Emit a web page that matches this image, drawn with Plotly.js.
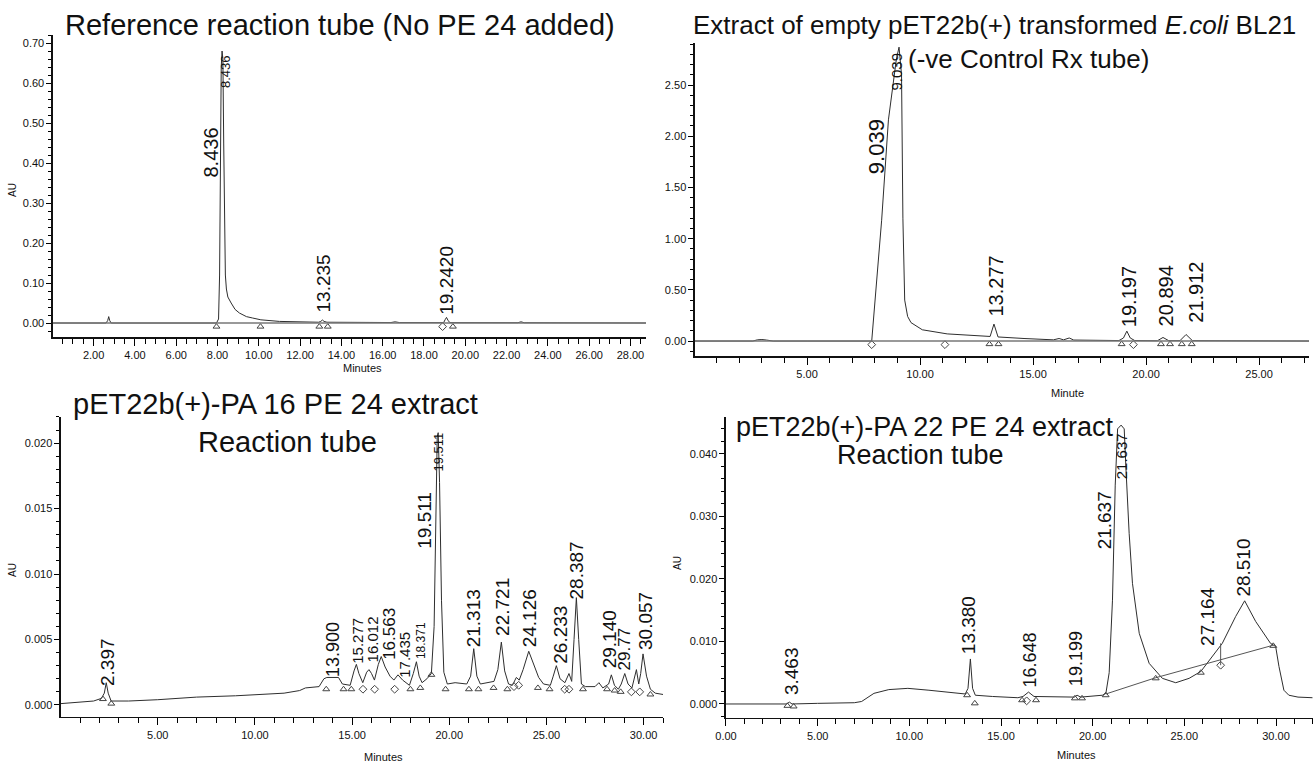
<!DOCTYPE html>
<html><head><meta charset="utf-8">
<script src="https://cdn.plot.ly/plotly-3.0.1.min.js"></script>
<style>html,body{margin:0;padding:0;background:#fff}#chart{width:1314px;height:763px}</style>
</head><body><div id="chart"></div>
<script>
// ---------- Panel 1: Reference reaction tube ----------
const p1Time = [0, 2.6, 2.68, 2.73, 2.78, 2.85, 7.95, 8.05, 8.1, 8.14, 8.18, 8.22, 8.26, 8.3, 8.34, 8.38, 8.43, 8.5, 8.66, 8.85, 9.06, 9.4, 9.7, 10.1, 11, 12.9, 13.0, 13.08, 13.16, 13.3, 16.4, 16.6, 16.8, 18.95, 19.02, 19.09, 19.16, 19.25, 22.55, 22.7, 22.85, 28.75];
const p1AU   = [0, 0, 0.006, 0.016, 0.006, 0, 0, 0.01, 0.12, 0.42, 0.64, 0.68, 0.66, 0.45, 0.22, 0.12, 0.085, 0.065, 0.05, 0.034, 0.025, 0.016, 0.0125, 0.008, 0.004, 0.002, 0.004, 0.0075, 0.004, 0.002, 0.0012, 0.003, 0.0012, 0.001, 0.008, 0.014, 0.007, 0.001, 0.0008, 0.003, 0.0008, 0];
const p1TriTime = [7.95, 10.08, 12.93, 13.34, 19.4];
const p1TriAU   = [-0.009, -0.009, -0.009, -0.009, -0.009];
const p1DiaTime = [18.9];
const p1DiaAU   = [-0.009];
const p1LabelText = ['8.436', '8.436', '13.235', '19.2420'];
const p1LabelTime = [7.7, 8.42, 13.13, 19.09];
const p1LabelAU   = [0.427, 0.628, 0.10, 0.107];

// ---------- Panel 2: empty pET22b(+) extract ----------
const p2Time = [0.04, 2.6, 2.8, 3.0, 3.2, 3.5, 5.0, 7.86, 8.3, 8.6, 8.95, 9.07, 9.18, 9.24, 9.32, 9.45, 9.6, 10.1, 11.2, 12.9, 13.1, 13.27, 13.45, 14.6, 15.9, 16.15, 16.35, 16.6, 16.8, 18.8, 19.0, 19.15, 19.3, 19.5, 20.5, 20.75, 21.0, 21.5, 21.77, 22.05, 27.21];
const p2AU   = [0, 0, 0.012, 0.015, 0.01, 0, 0, 0, 1.18, 2.16, 2.75, 2.87, 2.6, 1.2, 0.4, 0.24, 0.18, 0.11, 0.07, 0.045, 0.045, 0.166, 0.04, 0.025, 0.012, 0.025, 0.012, 0.03, 0.01, 0.005, 0.03, 0.097, 0.03, 0.005, 0.003, 0.035, 0.004, 0.004, 0.064, 0.004, 0];
const p2TriTime = [13.07, 13.47, 18.92, 20.66, 21.06, 21.58, 22.02];
const p2TriAU   = [-0.03, -0.03, -0.03, -0.03, -0.03, -0.03, -0.03];
const p2DiaTime = [7.86, 11.1, 19.44];
const p2DiaAU   = [-0.035, -0.035, -0.035];
const p2LabelText = ['9.039', '9.039', '13.277', '19.197', '20.894', '21.912'];
const p2LabelTime = [8.08, 8.97, 13.35, 19.25, 20.9, 22.2];
const p2LabelAU   = [1.9, 2.63, 0.54, 0.43, 0.44, 0.48];

// ---------- Panel 3: pET22b(+)-PA 16 PE 24 extract ----------
const p3Time = [0, 1.0, 1.7, 2.1, 2.25, 2.35, 2.45, 2.6, 3.5, 5.0, 7.0, 9.0, 10.5, 11.5, 12.3, 12.6, 13.3, 13.55, 13.7, 14.3, 14.5, 14.9, 15.1, 15.22, 15.35, 15.55, 15.75, 15.87, 16.0, 16.15, 16.35, 16.5, 16.7, 16.95, 17.15, 17.36, 17.6, 17.95, 18.15, 18.31, 18.45, 18.6, 18.85, 19.08, 19.22, 19.3, 19.38, 19.43, 19.5, 19.6, 19.72, 19.9, 20.3, 20.9, 21.1, 21.26, 21.42, 21.6, 22.3, 22.5, 22.68, 22.85, 23.05, 23.25, 23.45, 23.6, 23.8, 24.09, 24.35, 24.6, 24.85, 25.2, 25.35, 25.51, 25.7, 25.95, 26.16, 26.3, 26.42, 26.54, 26.66, 26.8, 27.0, 27.5, 27.7, 27.9, 28.2, 28.34, 28.5, 28.7, 28.85, 29.03, 29.2, 29.4, 29.63, 29.75, 29.85, 29.97, 30.15, 30.35, 30.6, 31.0];
const p3AU   = [0.0001, 0.0002, 0.0003, 0.0005, 0.0009, 0.0017, 0.0009, 0.0003, 0.0003, 0.0004, 0.0006, 0.0007, 0.0008, 0.0009, 0.0011, 0.0013, 0.0014, 0.0020, 0.0021, 0.0021, 0.0016, 0.0015, 0.0026, 0.0031, 0.0024, 0.0017, 0.0025, 0.0027, 0.0024, 0.0019, 0.0031, 0.0037, 0.0029, 0.0022, 0.0019, 0.0023, 0.0019, 0.0015, 0.0024, 0.0033, 0.0022, 0.0017, 0.0020, 0.0024, 0.0060, 0.0150, 0.0205, 0.0208, 0.0170, 0.0080, 0.0025, 0.0016, 0.0017, 0.0016, 0.0022, 0.0043, 0.0022, 0.0016, 0.0018, 0.0027, 0.0048, 0.0026, 0.0016, 0.0015, 0.0021, 0.0019, 0.0027, 0.0041, 0.0031, 0.0021, 0.0016, 0.0015, 0.0022, 0.0030, 0.0020, 0.0017, 0.0024, 0.0018, 0.0050, 0.0082, 0.0050, 0.0016, 0.0014, 0.0014, 0.0017, 0.0013, 0.0016, 0.0023, 0.0015, 0.0012, 0.0016, 0.0024, 0.0016, 0.0013, 0.0027, 0.0016, 0.0024, 0.0039, 0.0022, 0.0012, 0.0009, 0.0008];
const p3TriTime = [2.18, 2.61, 13.67, 14.56, 14.96, 18.0, 18.51, 19.08, 19.81, 21.01, 21.5, 22.28, 22.99, 24.56, 25.16, 26.88, 28.12, 28.51, 28.82, 30.35];
const p3TriAU   = [0.00045, 0.0001, 0.0012, 0.0012, 0.0012, 0.0012, 0.0013, 0.0023, 0.0012, 0.0012, 0.0012, 0.0013, 0.0012, 0.0013, 0.0012, 0.0012, 0.0012, 0.0011, 0.0010, 0.0008];
const p3DiaTime = [15.56, 16.16, 17.19, 23.33, 23.57, 25.94, 26.16, 29.37, 29.8];
const p3DiaAU   = [0.0012, 0.0012, 0.0012, 0.0014, 0.0015, 0.0012, 0.0012, 0.0010, 0.0010];
const p3LabelText = ['2.397', '13.900', '15.277', '16.012', '16.563', '17.435', '18.371', '19.511', '19.511', '21.313', '22.721', '24.126', '26.233', '28.387', '29.140', '29.77', '30.057'];
const p3LabelTime = [2.42, 14.02, 15.3, 16.07, 16.93, 17.7, 18.56, 18.72, 19.43, 21.26, 22.77, 24.14, 25.72, 26.54, 28.26, 29.03, 30.06];
const p3LabelAU   = [0.00325, 0.0042, 0.0049, 0.0050, 0.0054, 0.0038, 0.0049, 0.0141, 0.0193, 0.0066, 0.0075, 0.0066, 0.0054, 0.0103, 0.0050, 0.0043, 0.0064];

// ---------- Panel 4: pET22b(+)-PA 22 PE 24 extract ----------
const p4Time = [0, 3.3, 3.46, 3.6, 5.0, 7.0, 7.4, 8.07, 8.88, 9.92, 11.07, 12.23, 13.05, 13.2, 13.33, 13.45, 13.6, 14.53, 15.92, 16.2, 16.5, 16.8, 18.0, 19.0, 19.15, 19.35, 20.53, 20.72, 20.9, 21.08, 21.23, 21.36, 21.55, 21.72, 21.81, 21.99, 22.17, 22.54, 23.08, 23.8, 24.53, 25.26, 25.9, 26.53, 27.07, 27.8, 28.29, 28.89, 29.7, 29.98, 30.16, 30.43, 30.7, 31.2, 32.0];
const p4AU   = [0, 0, 0.0003, 0, 0.0001, 0.0002, 0.0004, 0.0017, 0.0023, 0.0025, 0.0022, 0.0018, 0.0016, 0.0025, 0.0072, 0.0025, 0.0014, 0.0012, 0.0010, 0.0012, 0.0019, 0.0012, 0.0011, 0.0011, 0.0014, 0.0011, 0.0014, 0.0017, 0.0050, 0.0166, 0.0350, 0.0440, 0.0446, 0.0440, 0.0380, 0.0273, 0.0193, 0.0113, 0.0065, 0.0041, 0.0034, 0.0041, 0.0052, 0.0076, 0.0097, 0.0140, 0.0165, 0.0132, 0.0097, 0.0092, 0.0060, 0.0022, 0.0014, 0.0011, 0.0010];
const p4BaseTime = [20.72, 23.44, 29.85];
const p4BaseAU   = [0.0016, 0.0042, 0.0094];
const p4DropTime = [26.98, 26.98];
const p4DropAU   = [0.0097, 0.0062];
const p4TriTime = [3.35, 3.69, 13.15, 13.57, 16.15, 16.91, 19.03, 19.42, 20.71, 23.44, 25.9, 29.85];
const p4TriAU   = [-0.0003, -0.0004, 0.0014, 0.0001, 0.0006, 0.0006, 0.0009, 0.0009, 0.0014, 0.0041, 0.0050, 0.0093];
const p4DiaTime = [16.4, 26.98];
const p4DiaAU   = [0.0005, 0.0062];
const p4LabelText = ['3.463', '13.380', '16.648', '19.199', '21.637', '21.637', '27.164', '28.510'];
const p4LabelTime = [3.58, 13.2, 16.6, 19.1, 20.63, 21.54, 26.26, 28.25];
const p4LabelAU   = [0.0052, 0.0126, 0.0070, 0.0072, 0.0294, 0.0396, 0.0140, 0.0218];

// ---------- styles ----------
const FONT = 'Liberation Sans, Arial, Helvetica, sans-serif';
const p1LabelSize = [20, 13, 19, 19];
const p2LabelSize = [22, 15, 20, 20, 20, 20];
const p3LabelSize = [19, 18, 15, 15, 17, 15, 12, 19, 13, 19, 19, 19, 19, 19, 19, 17, 19];
const p4LabelSize = [19, 19, 18, 18, 19, 15, 19, 19];
const lineColor = '#2e2e2e';
const tickFont = {family: FONT, size: 11, color: '#111'};

function xAxis(domain, range, dtick, minorDtick, anchor) {
  return {domain, range, anchor, tickmode: 'linear', tick0: 0, dtick, tickformat: '.2f',
    ticks: 'outside', ticklen: 7, tickwidth: 1, tickcolor: '#000', showline: true,
    linecolor: '#111', linewidth: 1.5, showgrid: false, zeroline: false, tickfont: tickFont,
    minor: {dtick: minorDtick, ticks: 'outside', ticklen: 5, tickwidth: 1, tickcolor: '#000', showgrid: false},
    fixedrange: true};
}
function yAxis(domain, range, dtick, fmt, minorDtick, anchor) {
  return {domain, range, anchor, tickmode: 'linear', tick0: 0, dtick, tickformat: fmt,
    ticks: 'outside', ticklen: 5, tickwidth: 1, tickcolor: '#000', showline: true,
    linecolor: '#111', linewidth: 1.5, showgrid: false, zeroline: false, tickfont: tickFont,
    minor: {dtick: minorDtick, ticks: 'outside', ticklen: 3, tickwidth: 1, tickcolor: '#000', showgrid: false},
    fixedrange: true};
}

const traces = [];
function addPanel(xa, ya, t, v, triT, triV, diaT, diaV) {
  traces.push({x: t, y: v, xaxis: xa, yaxis: ya, type: 'scatter', mode: 'lines',
    line: {color: lineColor, width: 1}, hoverinfo: 'skip'});
  traces.push({x: triT, y: triV, xaxis: xa, yaxis: ya, type: 'scatter', mode: 'markers',
    marker: {symbol: 'triangle-up-open', size: 6, color: '#444', line: {width: 1}}, hoverinfo: 'skip'});
  traces.push({x: diaT, y: diaV, xaxis: xa, yaxis: ya, type: 'scatter', mode: 'markers',
    marker: {symbol: 'diamond-open', size: 6, color: '#444', line: {width: 1}}, hoverinfo: 'skip'});
}
addPanel('x', 'y', p1Time, p1AU, p1TriTime, p1TriAU, p1DiaTime, p1DiaAU);
addPanel('x2', 'y2', p2Time, p2AU, p2TriTime, p2TriAU, p2DiaTime, p2DiaAU);
addPanel('x3', 'y3', p3Time, p3AU, p3TriTime, p3TriAU, p3DiaTime, p3DiaAU);
addPanel('x4', 'y4', p4Time, p4AU, p4TriTime, p4TriAU, p4DiaTime, p4DiaAU);
traces.push({x: p4BaseTime, y: p4BaseAU, xaxis: 'x4', yaxis: 'y4', type: 'scatter', mode: 'lines',
  line: {color: '#555', width: 1}, hoverinfo: 'skip'});
traces.push({x: p4DropTime, y: p4DropAU, xaxis: 'x4', yaxis: 'y4', type: 'scatter', mode: 'lines',
  line: {color: '#555', width: 1}, hoverinfo: 'skip'});

const annotations = [];
function peakLabels(xa, ya, texts, ts, vs, sizes) {
  texts.forEach((txt, i) => annotations.push({text: txt, x: ts[i], y: vs[i], xref: xa, yref: ya,
    showarrow: false, textangle: -90, xanchor: 'center', yanchor: 'middle',
    font: {family: FONT, size: sizes[i], color: '#111'}}));
}
peakLabels('x', 'y', p1LabelText, p1LabelTime, p1LabelAU, p1LabelSize);
peakLabels('x2', 'y2', p2LabelText, p2LabelTime, p2LabelAU, p2LabelSize);
peakLabels('x3', 'y3', p3LabelText, p3LabelTime, p3LabelAU, p3LabelSize);
peakLabels('x4', 'y4', p4LabelText, p4LabelTime, p4LabelAU, p4LabelSize);

const W = 1314, H = 763;
function paperText(txt, px, py, size, angle) {
  annotations.push({text: txt, x: px / W, y: 1 - py / H, xref: 'paper', yref: 'paper',
    showarrow: false, xanchor: 'center', yanchor: 'middle', textangle: angle || 0,
    borderpad: 0, font: {family: FONT, size, color: '#111'}});
}
paperText('Reference reaction tube (No PE 24 added)', 340, 25, 29);
paperText('Extract of empty pET22b(+) transformed <i>E.coli</i> BL21', 994, 25, 26);
paperText('(-ve Control Rx tube)', 1028, 59, 26);
paperText('pET22b(+)-PA 16 PE 24 extract', 275, 404, 29);
paperText('Reaction tube', 287, 442, 29);
paperText('pET22b(+)-PA 22 PE 24 extract', 924, 427, 27);
paperText('Reaction tube', 920, 455, 27);
paperText('Minutes', 362, 368, 11);
paperText('Minute', 1067, 393, 11);
paperText('Minutes', 383, 757, 11);
paperText('Minutes', 1076, 755, 11);
paperText('AU', 12, 190, 10, -90);
paperText('AU', 12, 570, 10, -90);
paperText('AU', 677, 563, 10, -90);

const layout = {
  width: W, height: H, margin: {l: 0, r: 0, t: 0, b: 0},
  paper_bgcolor: '#fff', plot_bgcolor: 'rgba(0,0,0,0)', showlegend: false,
  xaxis:  xAxis([0.0403, 0.4916], [0.03, 28.75], 2, 0.5, 'y'),
  yaxis:  yAxis([0.5583, 0.9541], [-0.035, 0.72], 0.1, '.2f', 0.02, 'x'),
  xaxis2: xAxis([0.5289, 0.9962], [0.04, 27.21], 5, 1, 'y2'),
  yaxis2: yAxis([0.5334, 0.9436], [-0.146, 2.91], 0.5, '.2f', 0.1, 'x2'),
  xaxis3: xAxis([0.0464, 0.5046], [0.02, 31.0], 5, 1, 'y3'),
  yaxis3: yAxis([0.0603, 0.4535], [-0.00092, 0.022], 0.005, '.3f', 0.001, 'x3'),
  xaxis4: xAxis([0.5525, 0.999], [0, 32.0], 5, 1, 'y4'),
  yaxis4: yAxis([0.0590, 0.4535], [-0.00224, 0.0459], 0.01, '.3f', 0.002, 'x4'),
  shapes: [
    {type: 'line', xref: 'x domain', yref: 'y', x0: 0, x1: 1, y0: 0, y1: 0, line: {color: '#777', width: 1.5}},
    {type: 'line', xref: 'x2 domain', yref: 'y2', x0: 0, x1: 1, y0: 0, y1: 0, line: {color: '#777', width: 1.5}}
  ],
  annotations
};
Plotly.newPlot('chart', traces, layout, {staticPlot: true, displayModeBar: false});
</script>
</body></html>
